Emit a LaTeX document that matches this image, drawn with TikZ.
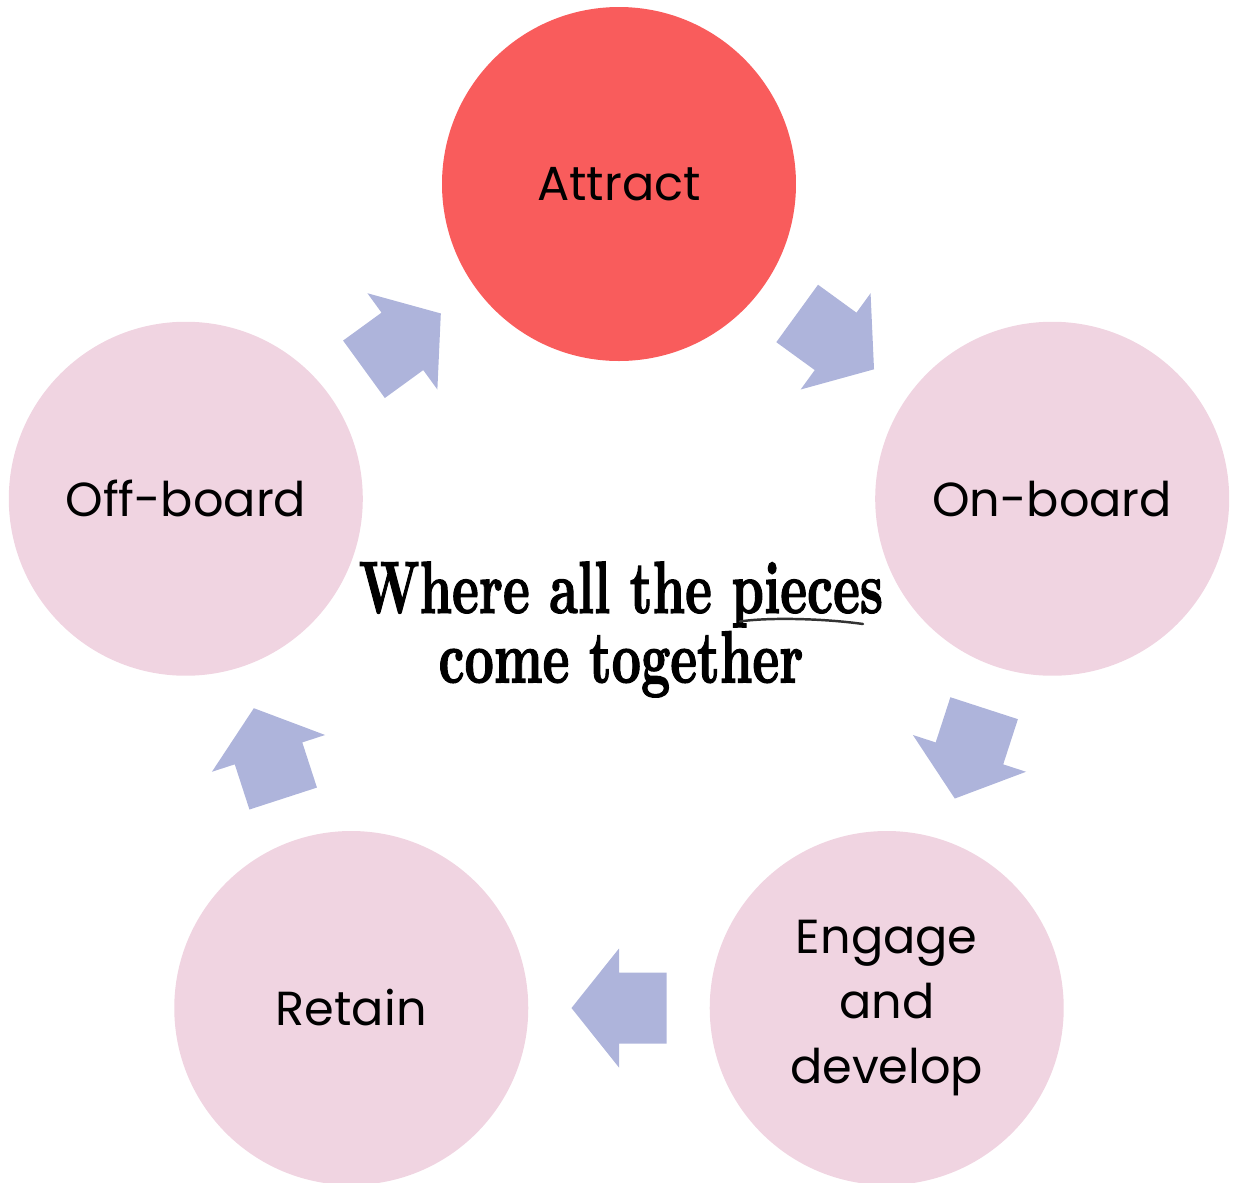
\documentclass[tikz,border=0pt]{standalone}
\usepackage{fontspec}
\usetikzlibrary{calc}
\newfontfamily\poppins{Poppins}
\newfontfamily\mottofont[FakeBold=1.8]{lmroman10-bold.otf}
\definecolor{attractred}{HTML}{F95C5C}
\definecolor{stagepink}{HTML}{F0D4E1}
\definecolor{flowblue}{HTML}{AEB4DB}

\begin{document}
\begin{tikzpicture}
  \tikzstyle{stage}=[circle, fill=stagepink, draw=none, minimum size=3.54cm,
    inner sep=0pt, align=center, font=\poppins\fontsize{13.6}{18.6}\selectfont]
  \tikzstyle{flow}=[fill=flowblue, draw=none]
  \tikzstyle{tagline}=[align=center, inner sep=0pt, xscale=0.69,
    font=\mottofont\fontsize{21}{19.8}\selectfont]
  \tikzstyle{swoosh}=[draw=black!80, line width=0.7pt, line cap=round]

  \useasboundingbox (0,0) rectangle (12.37,-11.83);
  \coordinate (hub) at (6.19,-6.395);

  \node[stage, fill=attractred] (attract) at ($(hub)+(90:4.555)$) {Attract};
  \node[stage] (onboard) at ($(hub)+(18:4.555)$) {On-board};
  \node[stage] (engage) at ($(hub)+(-54:4.555)$) {Engage\\and\\develop};
  \node[stage] (retain) at ($(hub)+(-126:4.555)$) {Retain};
  \node[stage] (offboard) at ($(hub)+(162:4.555)$) {Off-board};

  % block arrows half way between the stages
  \foreach \from/\to/\ang in {attract/onboard/-36, onboard/engage/-108,
      engage/retain/180, retain/offboard/108, offboard/attract/36}
  {
    \begin{scope}[shift={($(\from)!0.5!(\to)$)}, rotate=\ang]
      \fill[flow] (-0.475,-0.355) -- (0,-0.355) -- (0,-0.595) -- (0.475,0)
        -- (0,0.595) -- (0,0.355) -- (-0.475,0.355) -- cycle;
    \end{scope}
  }

  \node[tagline] (motto) at (6.21,-6.295) {Where all the pieces\\come together};
  \draw[swoosh] (7.40,-6.215) .. controls (7.65,-6.175) and (8.2,-6.18) .. (8.63,-6.24);
\end{tikzpicture}
\end{document}
